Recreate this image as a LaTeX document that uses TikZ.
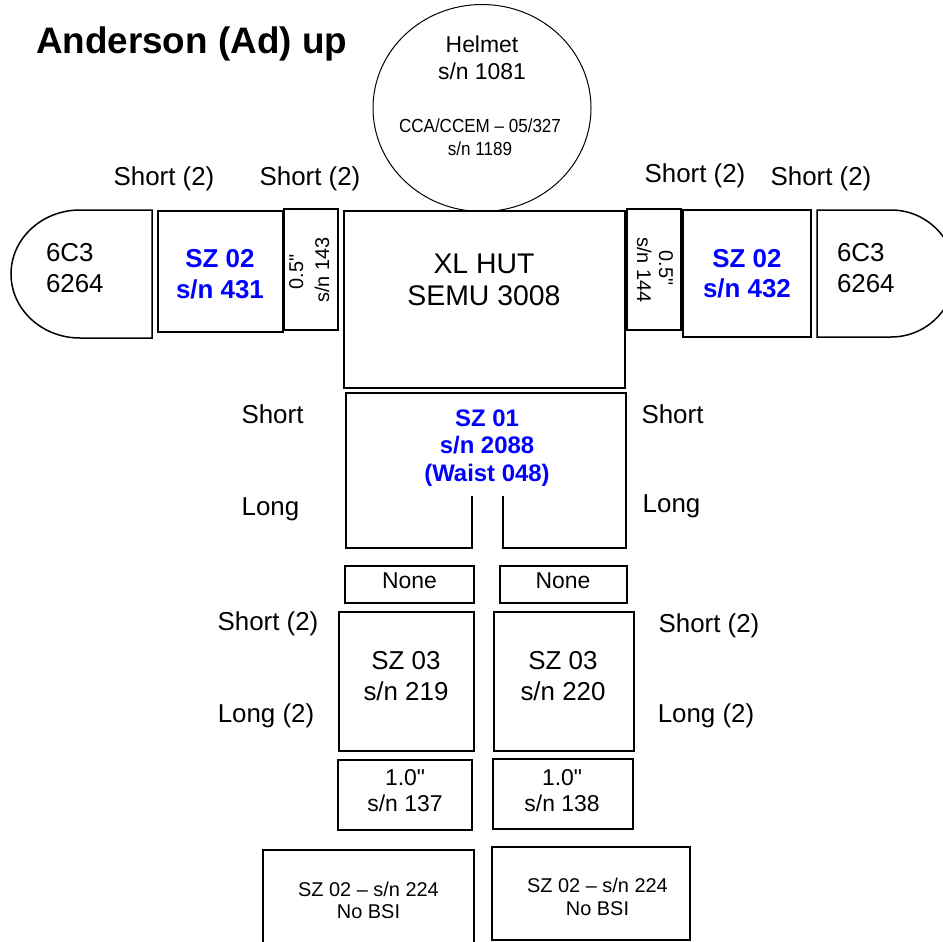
\documentclass[tikz,border=0pt]{standalone}
\usepackage{fontspec}
\setmainfont{Liberation Sans}
\newfontfamily\narrowfont[FakeStretch=0.9]{Liberation Sans}
\newfontfamily\qfont{Liberation Sans}
\usetikzlibrary{fit,shapes.geometric}
\definecolor{szblue}{RGB}{0,0,255}
\newcommand\sq{{\qfont\symbol{34}}}
\begin{document}
\begin{tikzpicture}[x=1bp,y=-1bp,
  box/.style={draw, line width=1.5bp, rectangle, inner sep=0pt, outer sep=0pt},
  outline/.style={draw, line width=1.5bp, line join=miter},
  lbl/.style={anchor=base, inner sep=0pt, outer sep=0pt},
  fs/.style={font=\fontsize{#1}{#1}\selectfont},
  bfs/.style={font=\fontsize{#1}{#1}\selectfont\bfseries},
  blue/.style={text=szblue}]
\useasboundingbox (0,0) rectangle (943,942);
\clip (0,0) rectangle (943,942);

% title
\node[lbl, anchor=base west, bfs=37] (title) at (36,53) {Anderson (Ad) up};

% helmet
\node[draw, line width=1bp, ellipse, inner sep=0pt, minimum width=218bp, minimum height=207bp] (helmet) at (482,108) {};
\node[lbl, fs=23] (h1) at (482,52) {Helmet};
\node[lbl, fs=23] (h2) at (482,79) {s/n 1081};
\node[lbl, font=\fontsize{19}{19}\narrowfont] (h3) at (480,132) {CCA/CCEM – 05/327};
\node[lbl, font=\fontsize{19}{19}\narrowfont] (h4) at (480,155) {s/n 1189};

% top row labels
\node[lbl, fs=26] (s1) at (164,185) {Short (2)};
\node[lbl, fs=26] (s2) at (310,185) {Short (2)};
\node[lbl, fs=26] (s3) at (695,182) {Short (2)};
\node[lbl, fs=26] (s4) at (821,185) {Short (2)};

% left cap
\path[outline] (152,210) -- (80,210) arc[start angle=270, end angle=90, x radius=69, y radius=64] -- (152,338) -- cycle;
\coordinate (capl) at (80,274);
\node[lbl, anchor=base west, fs=26] (cl1) at (46,261) {6C3};
\node[lbl, anchor=base west, fs=26] (cl2) at (46,292) {6264};

% right cap
\path[outline] (817,210) -- (891,210) arc[start angle=270, end angle=450, x radius=64, y radius=63.5] -- (817,337) -- cycle;
\coordinate (capr) at (891,274);
\node[lbl, anchor=base west, fs=26] (cr1) at (837,261) {6C3};
\node[lbl, anchor=base west, fs=26] (cr2) at (837,292) {6264};

% SZ 02 boxes
\node[box, fit={(158,211) (283,332)}] (sz02l) {};
\node[lbl, bfs=26, blue] (a1) at (220,267) {SZ 02};
\node[lbl, bfs=26, blue] (a2) at (220,298) {s/n 431};
\node[box, fit={(683,210) (811,337)}] (sz02r) {};
\node[lbl, bfs=26, blue] (b1) at (747,267) {SZ 02};
\node[lbl, bfs=26, blue] (b2) at (747,297) {s/n 432};

% 0.5" boxes
\node[box, fit={(284,209) (338,330)}] (halfl) {};
\node[lbl, rotate=90, fs=20] (hl1) at (303,272) {0.5\sq};
\node[lbl, rotate=90, fs=20] (hl2) at (329,270) {s/n 143};
\node[box, fit={(627,209) (681,330)}] (halfr) {};
\node[lbl, rotate=-90, fs=20] (hr1) at (659,268) {0.5\sq};
\node[lbl, rotate=-90, fs=20] (hr2) at (637,270) {s/n 144};

% XL HUT
\node[box, fit={(344,211) (625,388)}] (hut) {};
\node[lbl, fs=28.5] (x1) at (484,273) {XL HUT};
\node[lbl, fs=28.5] (x2) at (484,305) {SEMU 3008};

% SZ 01 lower torso
\path[outline] (472,496) -- (472,548) -- (346,548) -- (346,393) -- (626,393) -- (626,548) -- (503,548) -- (503,496);
\node[lbl, bfs=24, blue] (w1) at (487,426) {SZ 01};
\node[lbl, bfs=24, blue] (w2) at (487,453) {s/n 2088};
\node[lbl, bfs=24, blue] (w3) at (487,481) {(Waist 048)};
\node[lbl, fs=26] (ws1) at (272.5,423) {Short};
\node[lbl, fs=26] (wl1) at (270.5,515) {Long};
\node[lbl, fs=26] (ws2) at (672.5,423) {Short};
\node[lbl, fs=26] (wl2) at (671.5,512) {Long};

% None boxes
\node[box, fit={(345,566) (474,603)}] (nonel) {};
\node[lbl, fs=23] (n1) at (409.5,588) {None};
\node[box, fit={(500,566) (627,603)}] (noner) {};
\node[lbl, fs=23] (n2) at (563,588) {None};

% SZ 03 boxes
\node[box, fit={(339,612) (474,751)}] (sz03l) {};
\node[lbl, fs=26] (l1) at (406,669) {SZ 03};
\node[lbl, fs=26] (l2) at (406,700) {s/n 219};
\node[box, fit={(494,612) (634,751)}] (sz03r) {};
\node[lbl, fs=26] (r1) at (563,669) {SZ 03};
\node[lbl, fs=26] (r2) at (563,700) {s/n 220};
\node[lbl, fs=26] (ls1) at (268,630) {Short (2)};
\node[lbl, fs=26] (ll1) at (266,722) {Long (2)};
\node[lbl, fs=26] (rs1) at (709,632) {Short (2)};
\node[lbl, fs=26] (rl1) at (706,722) {Long (2)};

% 1.0" boxes
\node[box, fit={(338,760) (472,830)}] (onel) {};
\node[lbl, fs=23] (o1) at (405,785) {1.0\sq};
\node[lbl, fs=23] (o2) at (405,811) {s/n 137};
\node[box, fit={(493,759) (633,829)}] (oner) {};
\node[lbl, fs=23] (o3) at (562,785) {1.0\sq};
\node[lbl, fs=23] (o4) at (562,811) {s/n 138};

% boots
\node[box, fit={(263,850) (474,960)}] (bootl) {};
\node[lbl, fs=20] (bl1) at (368.5,896) {SZ 02 – s/n 224};
\node[lbl, fs=20] (bl2) at (368.5,918) {No BSI};
\node[box, fit={(492,847) (690,940)}] (bootr) {};
\node[lbl, fs=20] (br1) at (597.5,892) {SZ 02 – s/n 224};
\node[lbl, fs=20] (br2) at (597.5,915) {No BSI};
\end{tikzpicture}
\end{document}
